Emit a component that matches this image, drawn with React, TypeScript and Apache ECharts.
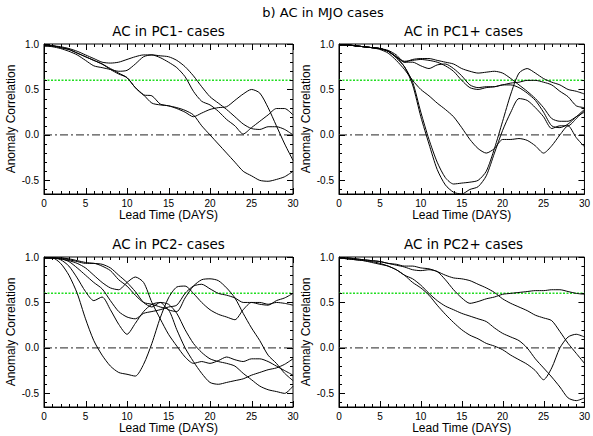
import React, { useEffect, useRef } from "react";
import * as echarts from "echarts";

// ---------- data ----------
const days = Array.from({ length: 31 }, (_, i) => i);

const pc1Minus: number[][] = [
  [0.99,0.98,0.97,0.95,0.92,0.88,0.84,0.8,0.79,0.8,0.83,0.86,0.88,0.88,0.87,0.86,0.82,0.75,0.65,0.53,0.42,0.35,0.28,0.2,0.12,0.07,0.06,0.09,0.09,0.06,0.0],
  [0.98,0.97,0.95,0.92,0.88,0.82,0.76,0.74,0.72,0.7,0.71,0.78,0.86,0.88,0.85,0.8,0.74,0.64,0.48,0.37,0.33,0.26,0.17,0.1,0.01,0.08,0.15,0.22,0.29,0.29,0.22],
  [0.98,0.98,0.96,0.94,0.9,0.86,0.82,0.78,0.73,0.68,0.63,0.52,0.44,0.43,0.34,0.32,0.3,0.27,0.22,0.1,0.0,-0.1,-0.2,-0.3,-0.4,-0.45,-0.5,-0.51,-0.49,-0.46,-0.4],
  [0.98,0.98,0.96,0.94,0.9,0.86,0.82,0.78,0.72,0.67,0.63,0.52,0.44,0.35,0.33,0.32,0.29,0.25,0.2,0.24,0.28,0.3,0.31,0.38,0.45,0.5,0.46,0.3,0.1,-0.1,-0.28],
];

const pc1Plus: number[][] = [
  [0.99,0.99,0.98,0.97,0.96,0.95,0.92,0.85,0.75,0.58,0.25,-0.05,-0.3,-0.47,-0.54,-0.53,-0.52,-0.5,-0.4,-0.15,0.15,0.45,0.68,0.73,0.68,0.62,0.58,0.55,0.5,0.48,0.45],
  [0.99,0.99,0.98,0.97,0.96,0.95,0.92,0.85,0.75,0.55,0.2,-0.1,-0.38,-0.55,-0.63,-0.65,-0.6,-0.57,-0.45,-0.2,0.05,0.25,0.4,0.38,0.3,0.2,0.07,0.1,0.1,0.18,0.27],
  [0.99,0.99,0.98,0.97,0.96,0.94,0.9,0.82,0.72,0.6,0.5,0.43,0.35,0.28,0.2,0.08,-0.05,-0.15,-0.2,-0.15,-0.05,-0.05,-0.04,-0.06,-0.12,-0.2,-0.12,0.0,0.1,-0.03,-0.13],
  [0.99,0.99,0.98,0.97,0.96,0.95,0.93,0.88,0.8,0.83,0.84,0.84,0.82,0.8,0.78,0.73,0.7,0.68,0.69,0.7,0.68,0.62,0.55,0.48,0.4,0.3,0.18,0.15,0.15,0.2,0.25],
  [0.99,0.99,0.98,0.97,0.96,0.95,0.92,0.86,0.8,0.8,0.76,0.73,0.77,0.78,0.73,0.65,0.55,0.52,0.53,0.53,0.55,0.55,0.52,0.46,0.38,0.25,0.1,0.08,0.12,0.2,0.28],
  [0.99,0.99,0.98,0.97,0.96,0.95,0.92,0.86,0.81,0.82,0.83,0.82,0.8,0.76,0.7,0.6,0.52,0.5,0.52,0.53,0.55,0.57,0.58,0.6,0.6,0.58,0.55,0.48,0.42,0.32,0.3],
];

const pc2Minus: number[][] = [
  [0.99,0.99,0.93,0.8,0.6,0.32,0.08,-0.08,-0.2,-0.27,-0.29,-0.31,-0.18,0.05,0.33,0.55,0.67,0.68,0.6,0.5,0.42,0.37,0.34,0.31,0.42,0.5,0.5,0.48,0.5,0.49,0.47],
  [0.99,0.99,0.97,0.9,0.77,0.62,0.52,0.56,0.42,0.26,0.15,0.27,0.4,0.48,0.5,0.42,0.4,0.55,0.68,0.75,0.76,0.74,0.66,0.55,0.38,0.22,0.08,-0.08,-0.17,-0.28,-0.36],
  [0.99,0.99,0.98,0.95,0.88,0.8,0.72,0.65,0.52,0.4,0.34,0.32,0.38,0.4,0.42,0.45,0.47,0.6,0.68,0.7,0.65,0.6,0.58,0.55,0.5,0.5,0.48,0.47,0.52,0.55,0.6],
  [0.99,0.99,0.98,0.96,0.93,0.88,0.8,0.72,0.66,0.64,0.72,0.78,0.72,0.5,0.32,0.15,0.02,-0.1,-0.17,-0.15,-0.17,-0.14,-0.1,-0.13,-0.15,-0.12,-0.12,-0.15,-0.2,-0.25,-0.3],
  [0.99,0.99,0.99,0.97,0.95,0.93,0.93,0.9,0.85,0.75,0.68,0.58,0.5,0.48,0.45,0.42,0.2,0.0,-0.15,-0.28,-0.38,-0.4,-0.38,-0.36,-0.34,-0.3,-0.27,-0.24,-0.22,-0.18,-0.12],
  [0.99,0.99,0.99,0.98,0.96,0.94,0.93,0.92,0.88,0.8,0.72,0.62,0.5,0.45,0.5,0.48,0.38,0.2,0.05,-0.05,-0.12,-0.15,-0.17,-0.2,-0.28,-0.35,-0.42,-0.46,-0.48,-0.5,-0.42],
];

const pc2Plus: number[][] = [
  [0.99,0.99,0.98,0.97,0.96,0.95,0.93,0.92,0.9,0.9,0.88,0.87,0.84,0.8,0.77,0.76,0.74,0.7,0.66,0.61,0.54,0.49,0.45,0.41,0.36,0.33,0.3,0.18,0.05,-0.06,-0.17],
  [0.99,0.99,0.98,0.97,0.96,0.95,0.93,0.91,0.89,0.86,0.85,0.86,0.84,0.75,0.64,0.55,0.49,0.51,0.54,0.56,0.59,0.6,0.61,0.62,0.63,0.63,0.64,0.64,0.62,0.6,0.59],
  [0.99,0.98,0.97,0.96,0.95,0.93,0.9,0.86,0.8,0.76,0.69,0.6,0.52,0.46,0.42,0.38,0.35,0.32,0.29,0.22,0.16,0.12,0.08,0.0,-0.12,-0.22,-0.32,-0.43,-0.55,-0.58,-0.55],
  [0.99,0.98,0.97,0.96,0.94,0.92,0.9,0.86,0.8,0.72,0.66,0.58,0.47,0.37,0.28,0.2,0.14,0.1,0.05,0.02,-0.02,-0.08,-0.13,-0.18,-0.25,-0.35,-0.22,0.0,0.12,0.15,0.12],
];

const panelTitles = ["AC in PC1- cases", "AC in PC1+ cases", "AC in PC2- cases", "AC in PC2+ cases"];
const mainTitle = "b) AC in MJO cases";
const xName = "Lead Time (DAYS)";
const yName = "Anomaly Correlation";
const zeroLineValue = 0;
const thresholdValue = 0.6;
const xTicks = Array.from({ length: 31 }, (_, i) => i);
const yTicks = [-0.6,-0.5,-0.4,-0.3,-0.2,-0.1,0,0.1,0.2,0.3,0.4,0.5,0.6,0.7,0.8,0.9,1.0];
const xRange = [0, 30];
const yRange = [-0.65, 1.0];

// ---------- layout ----------
const grids = [
  { left: 44, top: 44 },
  { left: 339, top: 44 },
  { left: 44, top: 257 },
  { left: 339, top: 257 },
];
const GW = 249;
const GH = 150;
const FONT = "'Liberation Sans', Arial, sans-serif";
const TFONT = "'DejaVu Sans', sans-serif";

export default function App() {
  const ref = useRef<HTMLDivElement>(null);
  useEffect(() => {
    if (!ref.current) return;
    const chart = echarts.init(ref.current, null, { renderer: "svg" });
    const panels = [pc1Minus, pc1Plus, pc2Minus, pc2Plus];

    const series: any[] = [];
    panels.forEach((lines, p) => {
      series.push({
        type: "line",
        xAxisIndex: p,
        yAxisIndex: p,
        data: [[xRange[0], thresholdValue], [xRange[1], thresholdValue]],
        symbol: "none",
        silent: true,
        lineStyle: { color: "#22dd22", width: 1.5, type: [2, 1.5] },
        z: 1,
      });
      series.push({
        type: "line",
        xAxisIndex: p,
        yAxisIndex: p,
        data: [[xRange[0], zeroLineValue], [xRange[1], zeroLineValue]],
        symbol: "none",
        silent: true,
        lineStyle: { color: "#505050", width: 1.2, type: [8, 3, 2, 3] },
        z: 1,
      });
      lines.forEach((vals) => {
        series.push({
          type: "line",
          xAxisIndex: p,
          yAxisIndex: p,
          data: vals.map((v, i) => [days[i], v]),
          symbol: "none",
          smooth: 0.25,
          lineStyle: { color: "#000", width: 1 },
          z: 3,
        });
      });
      // inward ticks on all four sides
      series.push({
        type: "custom",
        xAxisIndex: p,
        yAxisIndex: p,
        data: [[0, 0]],
        silent: true,
        z: 4,
        renderItem: (params: any, api: any) => {
          const children: any[] = [];
          const style = { stroke: "#000", lineWidth: 1 };
          const x0 = api.coord([xRange[0], 0])[0];
          const x1 = api.coord([xRange[1], 0])[0];
          const yb = api.coord([0, yRange[0]])[1];
          const yt = api.coord([0, yRange[1]])[1];
          xTicks.forEach((t) => {
            const px = Math.round(api.coord([t, 0])[0]) + 0.5;
            const len = t % 5 === 0 ? 6 : 3;
            children.push({ type: "line", shape: { x1: px, y1: yb, x2: px, y2: yb - len }, style });
            children.push({ type: "line", shape: { x1: px, y1: yt, x2: px, y2: yt + len }, style });
          });
          yTicks.forEach((t) => {
            const py = Math.round(api.coord([0, t])[1]) + 0.5;
            const major = Math.abs(t * 2 - Math.round(t * 2)) < 1e-6;
            const len = major ? 6 : 3;
            children.push({ type: "line", shape: { x1: x0, y1: py, x2: x0 + len, y2: py }, style });
            children.push({ type: "line", shape: { x1: x1, y1: py, x2: x1 - len, y2: py }, style });
          });
          return { type: "group", children };
        },
      });
    });

    const option: any = {
      animation: false,
      backgroundColor: "#fff",
      title: [
        {
          text: mainTitle,
          left: 323,
          top: 6,
          textAlign: "center",
          padding: 0,
          textStyle: { fontSize: 13, fontWeight: "normal", fontFamily: TFONT, color: "#000" },
        },
        ...grids.map((g, i) => ({
          text: panelTitles[i],
          left: g.left + GW / 2,
          top: g.top - 20,
          textAlign: "center",
          padding: 0,
          textStyle: { fontSize: 13.5, fontWeight: "normal", fontFamily: TFONT, color: "#000" },
        })),
      ],
      grid: grids.map((g) => ({
        left: g.left,
        top: g.top,
        width: GW,
        height: GH,
        show: true,
        borderColor: "#000",
        borderWidth: 1,
        backgroundColor: "transparent",
        containLabel: false,
      })),
      xAxis: grids.map((_, i) => ({
        type: "value",
        gridIndex: i,
        min: xRange[0],
        max: xRange[1],
        interval: 5,
        name: xName,
        nameLocation: "middle",
        nameGap: 14,
        nameTextStyle: { fontSize: 12, fontFamily: FONT, color: "#000" },
        axisLine: { show: true, onZero: false, lineStyle: { color: "#000", width: 1 } },
        axisTick: { show: false },
        splitLine: { show: false },
        axisLabel: { fontSize: 10, fontFamily: FONT, color: "#000", margin: 4 },
      })),
      yAxis: grids.map((_, i) => ({
        type: "value",
        gridIndex: i,
        min: yRange[0],
        max: yRange[1],
        interval: 0.05,
        name: yName,
        nameLocation: "middle",
        nameGap: 27,
        nameTextStyle: { fontSize: 12, fontFamily: FONT, color: "#000" },
        axisLine: { show: true, onZero: false, lineStyle: { color: "#000", width: 1 } },
        axisTick: { show: false },
        splitLine: { show: false },
        axisLabel: {
          fontSize: 10,
          fontFamily: FONT,
          color: "#000",
          margin: 5,
          showMinLabel: false,
          formatter: (v: number) => {
            if (Math.abs(v * 2 - Math.round(v * 2)) > 1e-6) return "";
            if (Math.abs(v) < 1e-6) return "0.0";
            return v.toFixed(1);
          },
        },
      })),
      series,
    };
    chart.setOption(option);
    return () => chart.dispose();
  }, []);
  return (
    <div
      ref={ref}
      style={{ position: "absolute", left: 0, top: 0, width: 593, height: 436, background: "#fff" }}
    />
  );
}
